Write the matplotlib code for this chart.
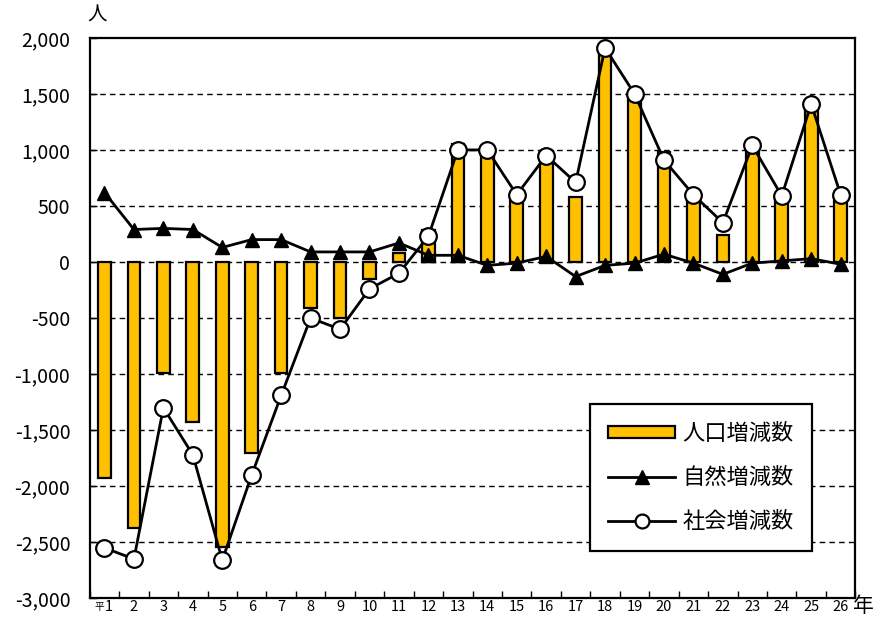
# 人口増減数・自然増減数・社会増減数の推移
import numpy as np
import matplotlib
matplotlib.use('Agg')
import matplotlib.pyplot as plt
from matplotlib.lines import Line2D
from matplotlib.patches import Patch

plt.rcParams['font.family'] = ['Noto Sans CJK JP', 'DejaVu Sans']

# データ
years = ['1', '2', '3', '4', '5', '6', '7', '8', '9', '10', '11', '12', '13',
         '14', '15', '16', '17', '18', '19', '20', '21', '22', '23', '24', '25', '26']
total = [-1930, -2370, -990, -1430, -2540, -1700, -990, -410, -500, -150, 80, 290, 1050,
         970, 590, 990, 580, 1880, 1490, 980, 590, 240, 1030, 600, 1440, 590]
natural = [620, 290, 300, 290, 130, 200, 200, 90, 90, 90, 170, 60, 60,
           -30, -10, 50, -130, -30, -10, 70, -10, -110, -10, 10, 30, -20]
social = [-2550, -2650, -1300, -1720, -2660, -1900, -1190, -500, -600, -240, -100, 230, 1000,
          1000, 600, 950, 710, 1910, 1500, 910, 600, 350, 1040, 590, 1410, 600]
yticks = [-3000, -2500, -2000, -1500, -1000, -500, 0, 500, 1000, 1500, 2000]
ytick_labels = ['-3,000', '-2,500', '-2,000', '-1,500', '-1,000', '-500', '0',
                '500', '1,000', '1,500', '2,000']

x = np.arange(len(years))

fig = plt.figure(figsize=(8.8, 6.2), dpi=100)
ax = fig.add_axes([0.102, 0.035, 0.870, 0.904])

# 目盛線（破線）
for v in yticks[1:-1]:
    ax.axhline(v, color='black', linestyle=(0, (4, 3)), linewidth=1.0, zorder=1)

ax.bar(x, total, width=0.43, color='#FFC000', edgecolor='black', linewidth=1.6, zorder=2)
ax.plot(x, natural, color='black', linewidth=2, marker='^', markersize=10,
        markerfacecolor='black', markeredgecolor='black', zorder=3)
ax.plot(x, social, color='black', linewidth=2, marker='o', markersize=12,
        markerfacecolor='white', markeredgecolor='black', markeredgewidth=1.6, zorder=4)

ax.set_xlim(-0.5, len(years) - 0.5)
ax.set_ylim(-3000, 2000)
ax.set_yticks(yticks)
ax.set_yticklabels(ytick_labels, fontsize=14)
ax.set_xticks(x)
ax.set_xticklabels([''] + years[1:], fontsize=10.5)
ax.set_xticks(np.arange(-0.5, len(years)), minor=True)
ax.tick_params(axis='x', which='major', length=0, pad=1)
ax.tick_params(axis='x', which='minor', direction='in', length=5, width=1)
ax.tick_params(axis='y', direction='in', length=5, width=1, pad=14)
for s in ax.spines.values():
    s.set_linewidth(1.6)

# 先頭ラベル「平1」
ax.annotate('平', xy=(0, 0), xycoords=('data', 'axes fraction'), xytext=(-4, -3),
            textcoords='offset points', ha='center', va='top', fontsize=7)
ax.annotate(years[0], xy=(0, 0), xycoords=('data', 'axes fraction'), xytext=(3, -1),
            textcoords='offset points', ha='center', va='top', fontsize=10.5)

fig.text(0.110, 0.975, '人', fontsize=14, ha='center', va='center')
fig.text(0.993, 0.022, '年', fontsize=15, ha='right', va='center')

handles = [
    Patch(facecolor='#FFC000', edgecolor='black', linewidth=1.6),
    Line2D([], [], color='black', linewidth=2, marker='^', markersize=10),
    Line2D([], [], color='black', linewidth=2, marker='o', markersize=10,
           markerfacecolor='white', markeredgewidth=1.6),
]
leg = ax.legend(handles, ['人口増減数', '自然増減数', '社会増減数'],
                loc='lower right', bbox_to_anchor=(0.943, 0.085), fontsize=16,
                frameon=True, fancybox=False, edgecolor='black', framealpha=1,
                handlelength=3.0, handleheight=0.45, borderpad=0.8, labelspacing=0.95,
                handletextpad=0.35, borderaxespad=0)
leg.get_frame().set_linewidth(1.6)

fig.savefig('out.png', dpi=100)
